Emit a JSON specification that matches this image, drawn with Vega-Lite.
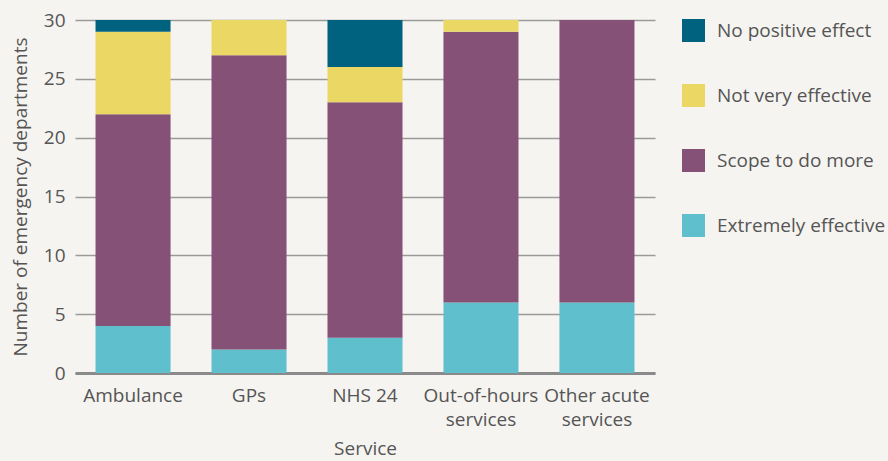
{
  "$schema": "https://vega.github.io/schema/vega-lite/v6.json",
  "width": 580,
  "height": 353,
  "autosize": {"type": "none"},
  "padding": {"left": 75, "top": 20, "right": 233, "bottom": 88},
  "background": "#f5f4f0",
  "config": {
    "font": "Open Sans",
    "view": {"stroke": null},
    "axis": {"labelColor": "#555555", "titleColor": "#555555", "labelFontSize": 19, "titleFontSize": 19, "titleFontWeight": "normal", "labelFont": "Open Sans", "titleFont": "Open Sans", "labelLimit": 300},
    "legend": {"labelColor": "#555555", "labelFontSize": 19, "labelFont": "Open Sans", "padding": 0, "labelLimit": 300}
  },
  "data": {
    "values": [
      {"service": "Ambulance", "rating": "Extremely effective", "rank": 1, "count": 4},
      {"service": "Ambulance", "rating": "Scope to do more", "rank": 2, "count": 18},
      {"service": "Ambulance", "rating": "Not very effective", "rank": 3, "count": 7},
      {"service": "Ambulance", "rating": "No positive effect", "rank": 4, "count": 1},
      {"service": "GPs", "rating": "Extremely effective", "rank": 1, "count": 2},
      {"service": "GPs", "rating": "Scope to do more", "rank": 2, "count": 25},
      {"service": "GPs", "rating": "Not very effective", "rank": 3, "count": 3},
      {"service": "GPs", "rating": "No positive effect", "rank": 4, "count": 0},
      {"service": "NHS 24", "rating": "Extremely effective", "rank": 1, "count": 3},
      {"service": "NHS 24", "rating": "Scope to do more", "rank": 2, "count": 20},
      {"service": "NHS 24", "rating": "Not very effective", "rank": 3, "count": 3},
      {"service": "NHS 24", "rating": "No positive effect", "rank": 4, "count": 4},
      {"service": "Out-of-hours services", "rating": "Extremely effective", "rank": 1, "count": 6},
      {"service": "Out-of-hours services", "rating": "Scope to do more", "rank": 2, "count": 23},
      {"service": "Out-of-hours services", "rating": "Not very effective", "rank": 3, "count": 1},
      {"service": "Out-of-hours services", "rating": "No positive effect", "rank": 4, "count": 0},
      {"service": "Other acute services", "rating": "Extremely effective", "rank": 1, "count": 6},
      {"service": "Other acute services", "rating": "Scope to do more", "rank": 2, "count": 24},
      {"service": "Other acute services", "rating": "Not very effective", "rank": 3, "count": 0},
      {"service": "Other acute services", "rating": "No positive effect", "rank": 4, "count": 0}
    ]
  },
  "mark": {"type": "bar"},
  "encoding": {
    "x": {
      "field": "service",
      "type": "nominal",
      "sort": ["Ambulance", "GPs", "NHS 24", "Out-of-hours services", "Other acute services"],
      "scale": {"paddingInner": 0.353, "paddingOuter": 0.177},
      "axis": {
        "title": "Service",
        "labelAngle": 0,
        "ticks": false,
        "labelPadding": 13,
        "labelLineHeight": 24,
        "labelExpr": "indexof(datum.label, ' services') > 0 ? [replace(datum.label, ' services', ''), 'services'] : datum.label",
        "titlePadding": 10,
        "domainColor": "#8a8a8a",
        "domainWidth": 3
      }
    },
    "y": {
      "field": "count",
      "type": "quantitative",
      "stack": "zero",
      "scale": {"domain": [0, 30]},
      "axis": {
        "title": "Number of emergency departments",
        "values": [0, 5, 10, 15, 20, 25, 30],
        "ticks": false,
        "domain": false,
        "labelPadding": 10,
        "titlePadding": 13,
        "gridColor": "#9a9a9a",
        "gridWidth": 1.5
      }
    },
    "color": {
      "field": "rating",
      "type": "nominal",
      "scale": {
        "domain": ["No positive effect", "Not very effective", "Scope to do more", "Extremely effective"],
        "range": ["#00627e", "#ebd864", "#855177", "#5fbfcd"]
      },
      "legend": {
        "title": null,
        "orient": "none",
        "legendX": 607,
        "legendY": -1,
        "symbolType": "square",
        "symbolSize": 529,
        "symbolStrokeWidth": 0,
        "symbolOpacity": 1,
        "rowPadding": 42,
        "labelOffset": 12
      }
    },
    "order": {"field": "rank", "type": "quantitative"}
  }
}
